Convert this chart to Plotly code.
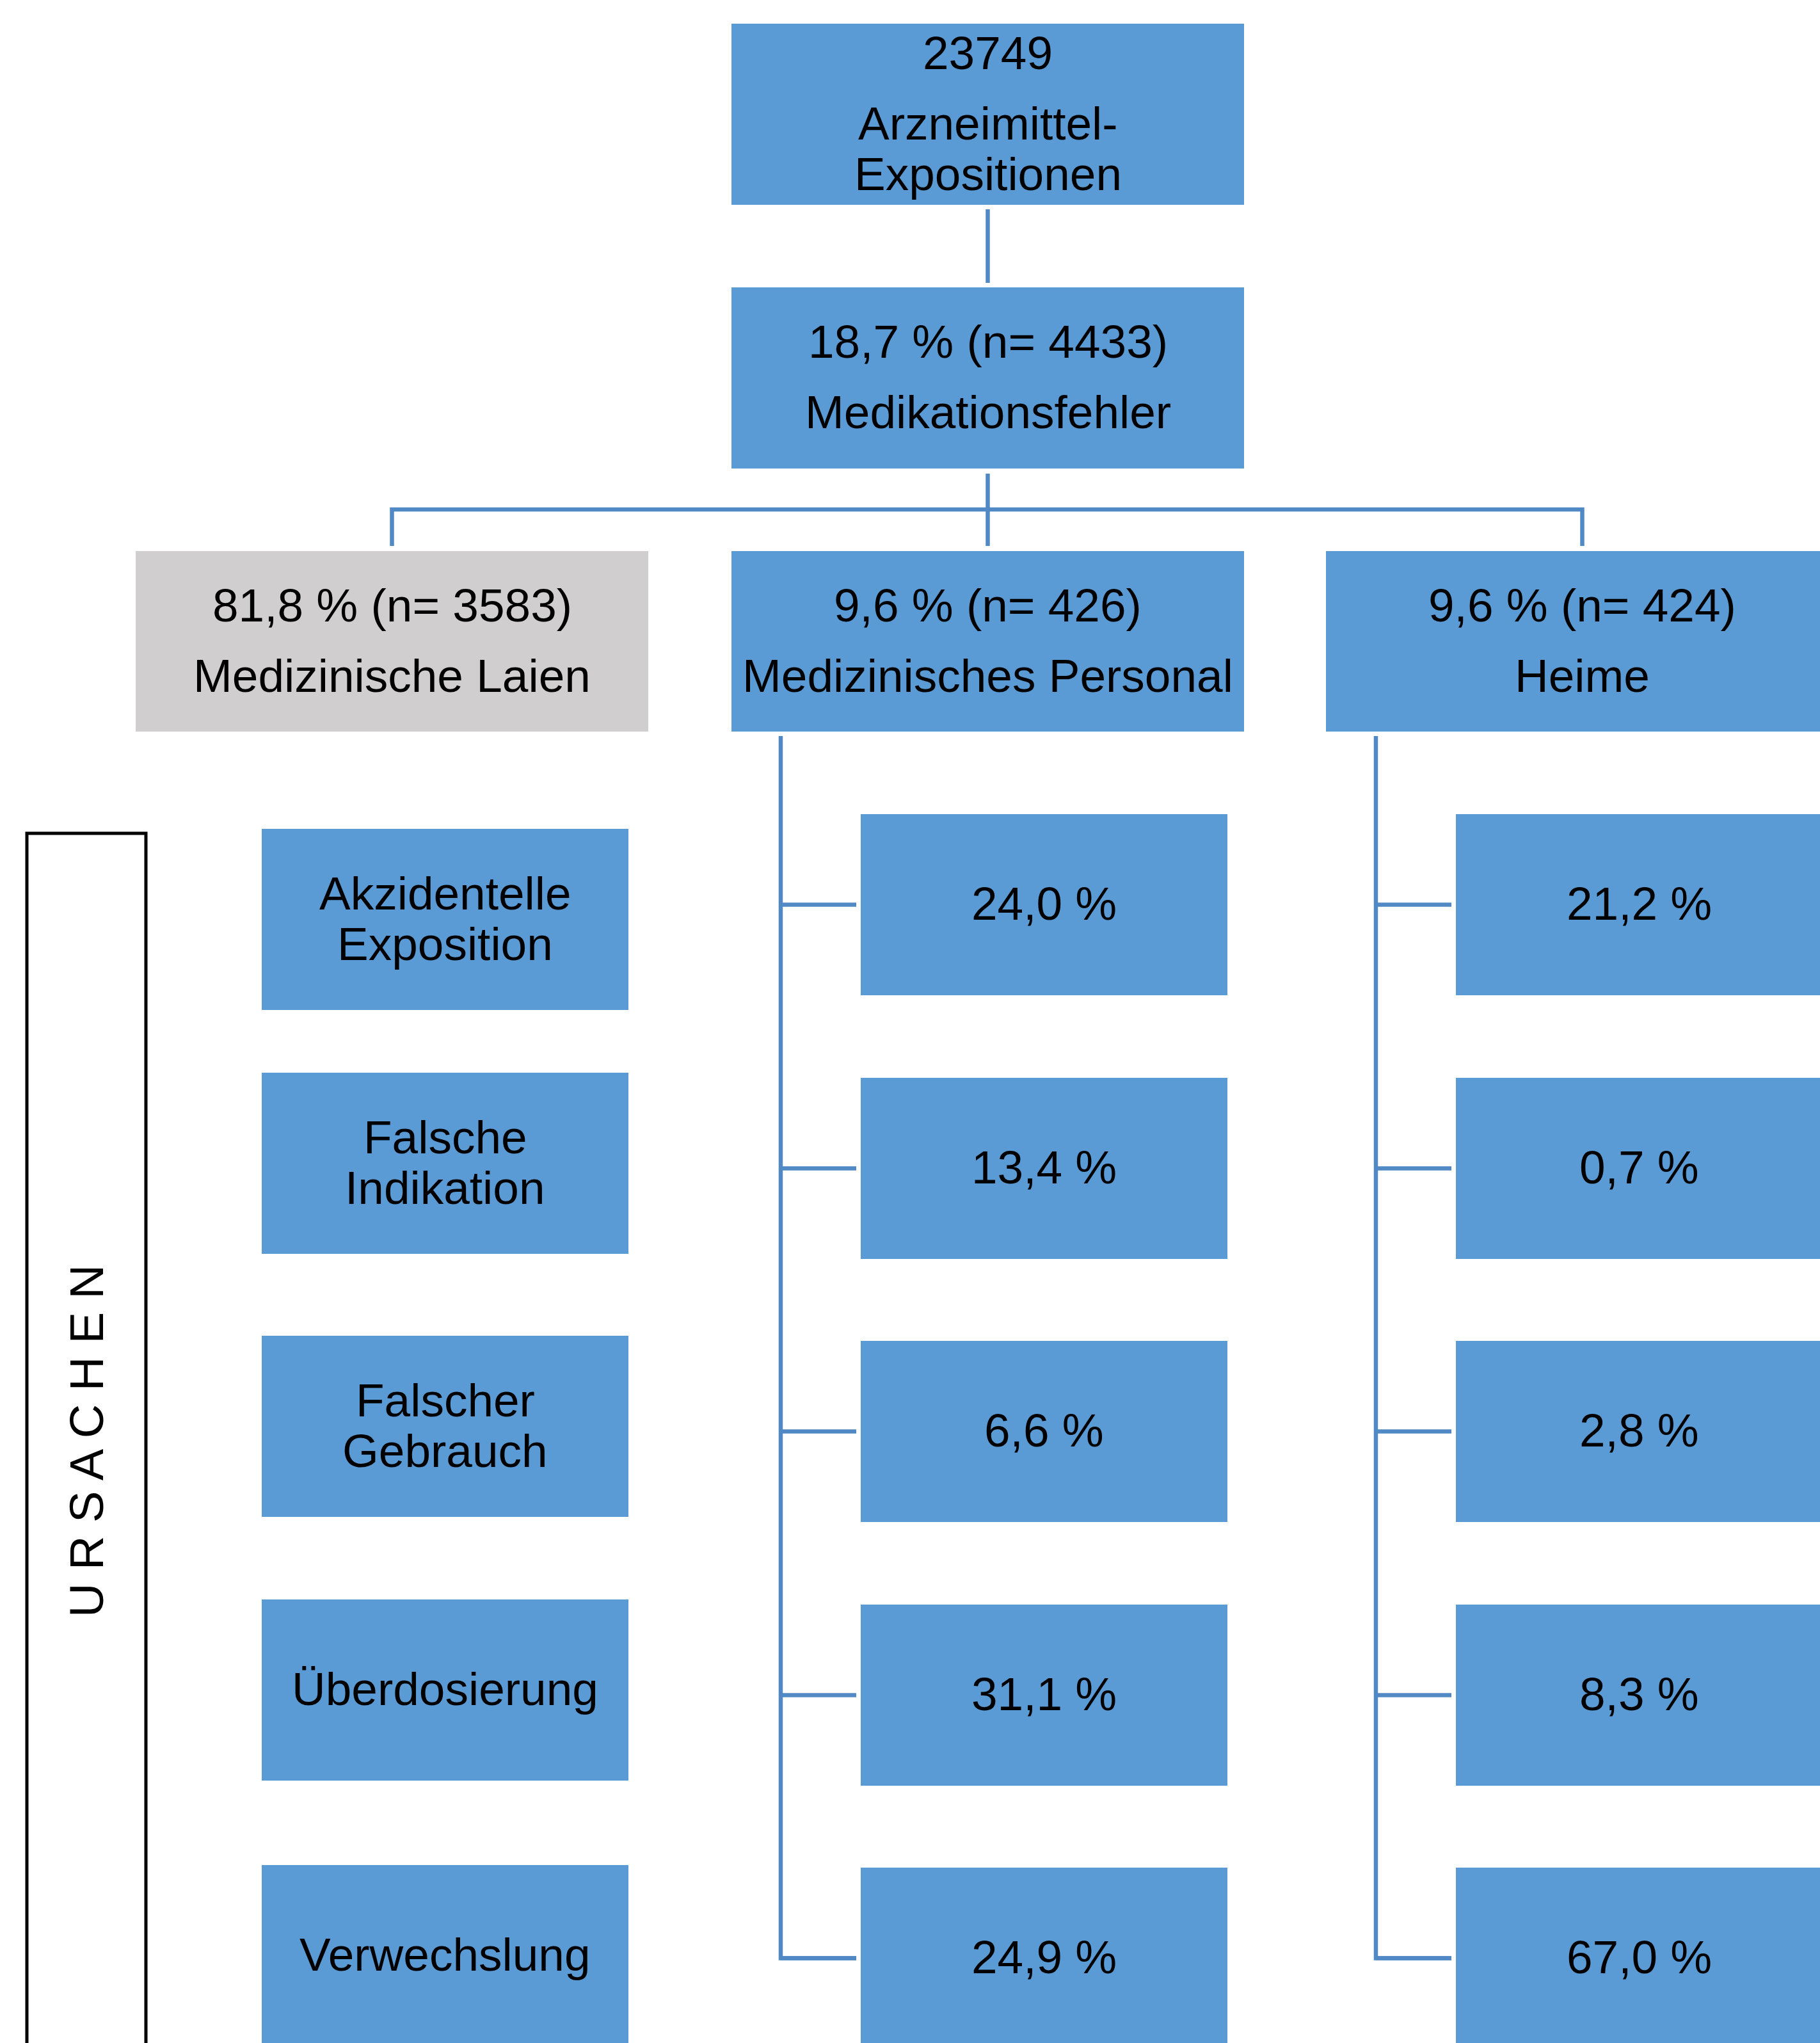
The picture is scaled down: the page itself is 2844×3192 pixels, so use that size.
import plotly.graph_objects as go

# ---------------- data ----------------
total_exposures = 23749
total_label = ["Arzneimittel-", "Expositionen"]
error_pct = "18,7"
error_n = 4433
error_label = "Medikationsfehler"

groups = ["Medizinische Laien", "Medizinisches Personal", "Heime"]
group_pct = ["81,8", "9,6", "9,6"]
group_n = [3583, 426, 424]

causes = [["Akzidentelle", "Exposition"], ["Falsche", "Indikation"],
          ["Falscher", "Gebrauch"], ["Überdosierung"], ["Verwechslung"]]
personal_pct = ["24,0", "13,4", "6,6", "31,1", "24,9"]
heime_pct = ["21,2", "0,7", "2,8", "8,3", "67,0"]
side_label = "URSACHEN"

# ---------------- style / layout ----------------
W, H = 2844, 3192
BLUE = "#5B9BD5"
GRAY = "#D0CECE"
LINE = "#5189C4"
FONT = "Liberation Sans, Arial, sans-serif"
FS = 73
LW = 6.5

shapes = []
annotations = []


def box(x0, y0, x1, y1, color):
    shapes.append(dict(type="rect", xref="x", yref="y", x0=x0, x1=x1, y0=y0, y1=y1,
                       fillcolor=color, line=dict(width=0), layer="below"))


def text(x, y, s, size=FS, angle=0):
    annotations.append(dict(x=x, y=y, xref="x", yref="y", text=s, showarrow=False,
                            xanchor="center", yanchor="middle", textangle=angle,
                            font=dict(family=FONT, size=size, color="black")))


def path(d, color=LINE, width=LW):
    shapes.append(dict(type="path", xref="x", yref="y", path=d,
                       line=dict(color=color, width=width)))


# top box
BX0, BX1 = 1143, 1944
cx = (BX0 + BX1) / 2
box(BX0, 37, BX1, 320, BLUE)
c = (37 + 320) / 2
text(cx, c - 96, str(total_exposures))
text(cx, c + 14, total_label[0])
text(cx, c + 93, total_label[1])

# connector 1 -> 2
path(f"M {cx} 327 L {cx} 442")

# second box
box(BX0, 449, BX1, 732, BLUE)
c = (449 + 732) / 2
text(cx, c - 57, f"{error_pct} % (n= {error_n})")
text(cx, c + 53, error_label)

# branching connector
g_left = [212, 1143, 2072]
g_w = 801
g_cx = [g + g_w / 2 for g in g_left]
path(f"M {cx} 740 L {cx} 853")
path(f"M {g_cx[0]} 853 L {g_cx[0]} 796 L {g_cx[2]} 796 L {g_cx[2]} 853")

# group boxes
for i, g in enumerate(groups):
    box(g_left[i], 861, g_left[i] + g_w, 1143, GRAY if i == 0 else BLUE)
    c = (861 + 1143) / 2
    text(g_cx[i], c - 57, f"{group_pct[i]} % (n= {group_n[i]})")
    text(g_cx[i], c + 53, g)

# cause label boxes (left column)
cause_tops = [1295, 1676, 2087, 2499, 2914]
BH = 283
for top, lines in zip(cause_tops, causes):
    box(409, top, 982, top + BH, BLUE)
    c = top + BH / 2
    xc = (409 + 982) / 2
    if len(lines) == 2:
        text(xc, c - 41, lines[0])
        text(xc, c + 38, lines[1])
    else:
        text(xc, c - 2, lines[0])

# sub boxes with brackets
sub_tops = [1272, 1684, 2095, 2507, 2918]
for col, (bx, pcts) in enumerate([(1220, personal_pct), (2150, heime_pct)]):
    centers = [t + BH / 2 for t in sub_tops]
    path(f"M {bx} 1150 L {bx} {centers[-1]} L {bx + 118} {centers[-1]}")
    for t, cy, p in zip(sub_tops, centers, pcts):
        path(f"M {bx} {cy} L {bx + 118} {cy}")
        x0 = bx + 125
        box(x0, t, x0 + 573, t + BH, BLUE)
        text(x0 + 573 / 2, cy - 2, f"{p} %")

# URSACHEN frame
shapes.append(dict(type="rect", xref="x", yref="y", x0=42, x1=228, y0=1302, y1=3400,
                   line=dict(color="black", width=5), fillcolor="rgba(0,0,0,0)"))
text(135, 2252, " ".join(side_label), size=74, angle=-90)

fig = go.Figure()
fig.add_trace(go.Scatter(x=[0, W], y=[0, H], mode="markers",
                         marker=dict(opacity=0), hoverinfo="skip", showlegend=False))
fig.update_layout(
    width=W, height=H, margin=dict(l=0, r=0, t=0, b=0),
    paper_bgcolor="white", plot_bgcolor="white",
    xaxis=dict(range=[0, W], visible=False, fixedrange=True),
    yaxis=dict(range=[H, 0], visible=False, fixedrange=True),
    shapes=shapes, annotations=annotations, showlegend=False,
)
fig.write_html("out.html")
